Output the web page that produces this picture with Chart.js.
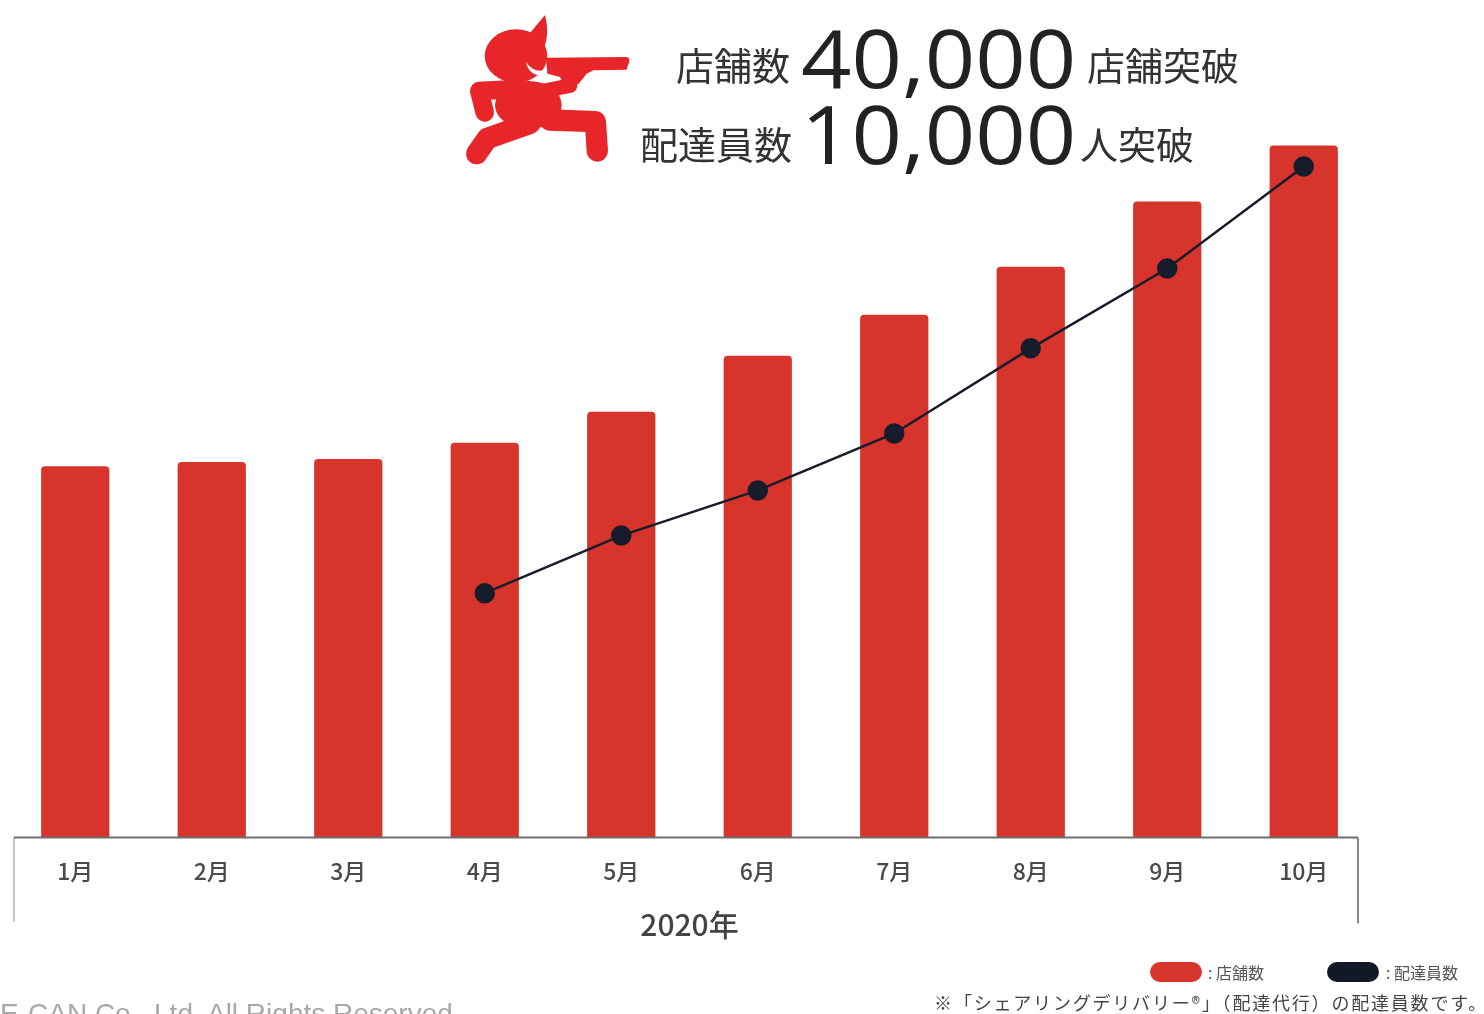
<!DOCTYPE html>
<html lang="ja">
<head>
<meta charset="utf-8">
<title>店舗数・配達員数の推移</title>
<script src="https://cdn.jsdelivr.net/npm/chart.js@4.4.0/dist/chart.umd.min.js"></script>
<style>
html, body { margin: 0; padding: 0; background: #fff; overflow: hidden; }
#wrap { position: relative; width: 1484px; height: 1014px; overflow: hidden; }
#grafica { position: absolute; left: 0; top: 0; }
.txt { position: absolute; white-space: nowrap; line-height: 1; font-family: "Noto Sans CJK JP", sans-serif; color: #2b2b2b; }
.big { font-family: "Open Sans", "Liberation Sans", sans-serif; font-weight: 400; font-size: 81px; color: #222; transform: scaleX(1.09); transform-origin: left top; }
.mid { font-size: 38px; color: #333; }
.pill { position: absolute; width: 52px; height: 20px; border-radius: 10px; }
.leyenda { font-size: 16px; color: #555; }
.nota { font-size: 18px; color: #444; letter-spacing: 1.8px; }
.copy { font-family: "Liberation Sans", Arial, sans-serif; font-size: 28px; color: #a8a8a8; }
#logo { position: absolute; left: 450px; top: 5px; }
</style>
</head>
<body>
<div id="wrap">
  <canvas id="grafica" width="1484" height="1014"></canvas>

  <svg id="logo" width="190" height="170" viewBox="0 0 570 510">
    <g fill="#e8262a" stroke="#e8262a" stroke-linecap="round" stroke-linejoin="round">
      <!-- cabeza -->
      <ellipse cx="198" cy="153" rx="94" ry="80" stroke="none"/>
      <!-- gorro -->
      <path d="M235 90 L285 30 C296 70 292 110 280 130 Z" stroke="none"/>
      <!-- escopeta -->
      <path d="M288 158 L530 156 C540 158 540 172 534 180 L530 194 L430 196 L410 206 L386 236 L346 252 L330 216 L292 206 Z" stroke="none"/>
      <!-- cuerpo -->
      <ellipse cx="235" cy="300" rx="100" ry="72" stroke="none"/>
      <!-- brazos -->
      <polyline points="200,252 88,258 104,322" fill="none" stroke-width="56"/>
      <polyline points="260,262 360,242" fill="none" stroke-width="44"/>
      <!-- piernas -->
      <polyline points="300,345 436,350 442,438" fill="none" stroke-width="64"/>
      <polyline points="240,355 112,400 80,446" fill="none" stroke-width="64"/>
    </g>
    <path d="M228 170 C242 192 262 200 278 196 L276 208 C254 214 234 200 228 170 Z" fill="#fff"/>
  </svg>

  <div class="txt mid" style="left:676px; top:45px;">店舗数</div>
  <div class="txt big" style="left:801px; top:16px;">40,000</div>
  <div class="txt mid" style="left:1087px; top:45px;">店舗突破</div>
  <div class="txt mid" style="left:640px; top:124px;">配達員数</div>
  <div class="txt big" style="left:801px; top:92px;">10,000</div>
  <div class="txt mid" style="left:1080px; top:124px;">人突破</div>

  <div class="pill" style="left:1150px; top:962px; background:#d7342b;"></div>
  <div class="txt leyenda" style="left:1208px; top:964px;">: 店舗数</div>
  <div class="pill" style="left:1327px; top:962px; background:#111827;"></div>
  <div class="txt leyenda" style="left:1386px; top:964px;">: 配達員数</div>
  <div class="txt nota" style="right:-4px; top:993px;">※「シェアリングデリバリー®」（配達代行）の配達員数です。</div>
  <div class="txt copy" style="left:0px; top:1000px;">E-CAN Co., Ltd. All Rights Reserved.</div>
</div>

<script>
const meses = ['1月', '2月', '3月', '4月', '5月', '6月', '7月', '8月', '9月', '10月'];
const tiendas = [22000, 22250, 22430, 23380, 25220, 28540, 30970, 33820, 37680, 41000];
const repartidores = [null, null, null, 3730, 4610, 5300, 6170, 7470, 8690, 10250];
const tituloEje = '2020年';

const colorBarra = '#d7342b';
const colorLinea = '#161c2c';

// marco gris alrededor del eje X
const marco = {
    id: 'marco',
    afterDatasetsDraw(chart) {
        const { ctx, chartArea } = chart;
        const x0 = chartArea.left + 7;
        const x1 = chartArea.right - 14;
        const y = chartArea.bottom;
        ctx.save();
        ctx.lineWidth = 2;
        ctx.strokeStyle = '#c4c4c4';
        ctx.beginPath();
        ctx.moveTo(x0, y);
        ctx.lineTo(x0, y + 84);
        ctx.stroke();
        ctx.strokeStyle = '#8a8a8a';
        ctx.beginPath();
        ctx.moveTo(x1, y);
        ctx.lineTo(x1, y + 86);
        ctx.stroke();
        ctx.strokeStyle = '#6e6e6e';
        ctx.beginPath();
        ctx.moveTo(x0, y);
        ctx.lineTo(x1, y);
        ctx.stroke();
        ctx.restore();
    }
};

const ctx = document.getElementById('grafica').getContext('2d');
const grafica = new Chart(ctx, {
    type: 'bar',
    data: {
        labels: meses,
        datasets: [
            {
                type: 'line',
                label: '配達員数',
                data: repartidores,
                yAxisID: 'y2',
                borderColor: colorLinea,
                borderWidth: 2.5,
                pointRadius: 9,
                pointBackgroundColor: colorLinea,
                pointBorderColor: colorLinea,
                tension: 0,
                order: 0
            },
            {
                type: 'bar',
                label: '店舗数',
                data: tiendas,
                yAxisID: 'y',
                backgroundColor: colorBarra,
                borderRadius: { topLeft: 4, topRight: 4, bottomLeft: 0, bottomRight: 0 },
                borderSkipped: 'bottom',
                categoryPercentage: 1,
                barPercentage: 0.5,
                order: 1
            }
        ]
    },
    options: {
        responsive: false,
        animation: false,
        layout: { autoPadding: false, padding: { left: 7, right: 112, top: 78, bottom: 67 } },
        plugins: {
            legend: { display: false },
            tooltip: { enabled: false }
        },
        scales: {
            x: {
                grid: { display: false, drawTicks: false },
                border: { display: false },
                ticks: {
                    padding: 20,
                    color: '#4a4a4a',
                    font: { family: '"Noto Sans CJK JP", sans-serif', size: 23, weight: '500' }
                },
                title: {
                    display: true,
                    text: tituloEje,
                    color: '#444',
                    font: { family: '"Noto Sans CJK JP", sans-serif', size: 30, weight: '500' },
                    padding: { top: 2, bottom: 4 }
                }
            },
            y: { display: false, min: 0, max: 45000 },
            y2: { display: false, min: 0, max: 11600, position: 'right' }
        }
    },
    plugins: [marco]
});
</script>
</body>
</html>
